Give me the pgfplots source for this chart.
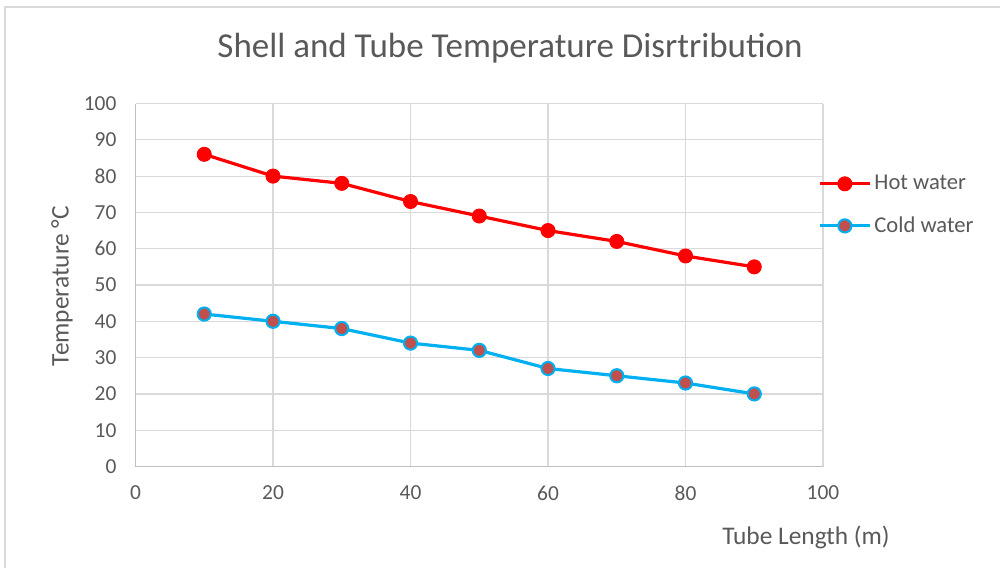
\documentclass[border=0pt]{standalone}
\usepackage{fontspec}
\setmainfont{Carlito}
\usepackage{pgfplots}
\pgfplotsset{compat=1.18}

\definecolor{txt}{HTML}{595959}
\definecolor{gridc}{HTML}{D9D9D9}
\definecolor{axisc}{HTML}{BFBFBF}
\definecolor{hot}{HTML}{FF0000}
\definecolor{coldline}{HTML}{00B0F0}
\definecolor{coldfill}{HTML}{C0504D}

\begin{document}
\begin{tikzpicture}
\begin{scope}[x=0.5pt,y=-0.5pt]
\useasboundingbox (0,0) rectangle (1000,567);
\draw[gridc, line width=0.75pt] (5,7) rectangle (1010,580);
\node[txt, font=\fontsize{17.5}{20}\selectfont] at (510,48) {Shell and Tube Temperature Disrtribution};
\node[txt, font=\fontsize{12.7}{15}\selectfont] at (806,537) {Tube Length (m)};
\node[txt, font=\fontsize{12.7}{15}\selectfont, rotate=90] at (62,286) {Temperature °C};
\end{scope}

\begin{axis}[
    at={(67.75pt,-233.25pt)}, anchor=south west,
    scale only axis,
    width=343.75pt, height=181.5pt,
    xmin=0, xmax=100, ymin=0, ymax=100,
    xtick={0,20,40,60,80,100},
    ytick={0,10,...,100},
    axis x line=bottom, axis y line=left,
    axis line style={axisc, line width=0.75pt, -},
    major tick length=0pt,
    grid=major,
    major grid style={gridc, line width=0.6pt},
    ticklabel style={txt, font=\fontsize{10.7}{12}\selectfont},
    /pgf/number format/assume math mode=true,
    yticklabel style={xshift=-6pt},
    xticklabel style={yshift=-6pt},
    clip=false,
    legend style={at={(0.9925,0.72)}, anchor=west, draw=none, fill=none,
        font=\fontsize{11.3}{13}\selectfont, text=txt,
        row sep=9pt, inner sep=0pt,
        nodes={inner sep=1.5pt}},
    legend cell align=left,
    legend image code/.code={%
        \draw[mark repeat=2,mark phase=2,#1] plot coordinates {(0pt,0pt)(12.5pt,0pt)(25pt,0pt)};},
]
\addplot[hot, line width=1.6pt, mark=*, mark size=3.5pt, mark options={fill=hot, draw=hot, line width=0.5pt}]
    coordinates {(10,86) (20,80) (30,78) (40,73) (50,69) (60,65) (70,62) (80,58) (90,55)};
\addlegendentry{Hot water}
\addplot[coldline, line width=1.6pt, mark=*, mark size=3.3pt, mark options={fill=coldfill, draw=coldline, line width=1pt}]
    coordinates {(10,42) (20,40) (30,38) (40,34) (50,32) (60,27) (70,25) (80,23) (90,20)};
\addlegendentry{Cold water}
\end{axis}
\end{tikzpicture}
\end{document}
